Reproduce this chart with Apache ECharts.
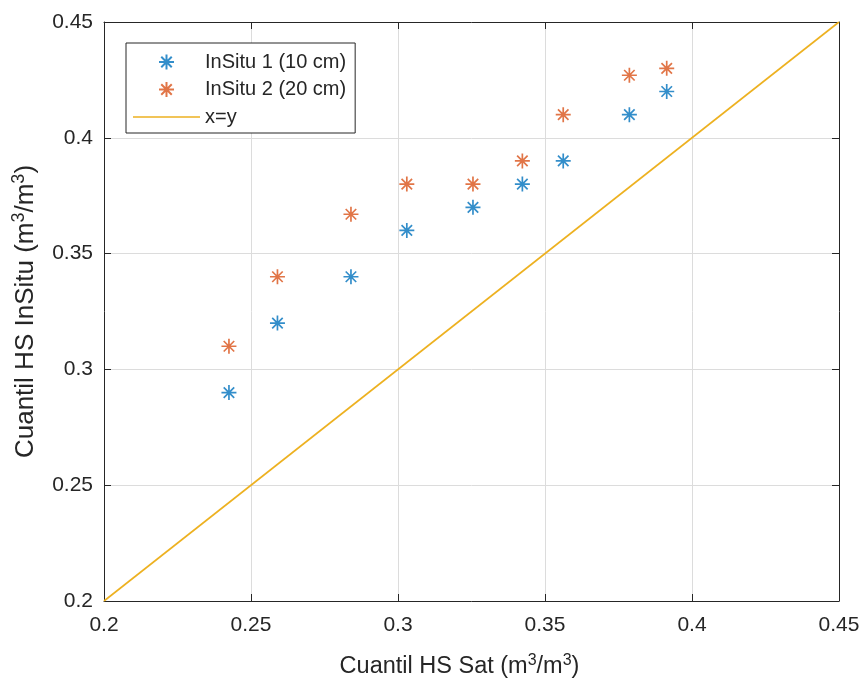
<!DOCTYPE html>
<html>
<head>
<meta charset="utf-8">
<script src="https://cdn.jsdelivr.net/npm/echarts@6/dist/echarts.min.js"></script>
<style>
  html, body { margin: 0; padding: 0; background: #fff; }
  #chart { width: 866px; height: 681px; }
</style>
</head>
<body>
<div id="chart"></div>
<script>
// Satellite soil-moisture quantiles (x) against in-situ quantiles at two depths (y)
const satQuantiles = [0.2425, 0.259, 0.284, 0.303, 0.3255, 0.3423, 0.3562, 0.3787, 0.3914];
const insitu1 = [0.29, 0.32, 0.34, 0.36, 0.37, 0.38, 0.39, 0.41, 0.42];
const insitu2 = [0.31, 0.34, 0.367, 0.38, 0.38, 0.39, 0.41, 0.427, 0.43];
const identityLine = [[0.2, 0.2], [0.45, 0.45]];
const seriesNames = ['InSitu 1 (10 cm)', 'InSitu 2 (20 cm)', 'x=y'];
const axisMin = 0.2, axisMax = 0.45, axisStep = 0.05;

const FONT = '"Liberation Sans", Arial, Helvetica, sans-serif';
const INK = '#262626';
const GRID = '#dcdcdc';
const C_BLUE = '#0072BD', C_RED = '#D95319', C_YELLOW = '#EDB120';

// asterisk marker: a plus with a shorter cross, stroked only
const ASTERISK = 'path://M0,-10L0,10M-10,0L10,0M-7,-7L7,7M-7,7L7,-7';
// flat bar used as the legend glyph of the reference line
const LINE_GLYPH = 'path://M0,0H66V1.6H0Z';

const pairs = ys => satQuantiles.map((x, i) => [x, ys[i]]);
const fmt = v => String(+v.toFixed(2));

const baseAxis = {
  type: 'value', min: axisMin, max: axisMax, interval: axisStep,
  axisLine: { show: true, onZero: false, lineStyle: { color: INK, width: 1 } },
  axisTick: { show: true, inside: true, length: 7, lineStyle: { color: INK, width: 1 } },
  splitLine: { show: false }
};

const richTitle = (size) => ({
  a: { fontFamily: FONT, fontSize: size, color: INK, lineHeight: size + 6 },
  s: { fontFamily: FONT, fontSize: Math.round(size * 0.68), color: INK,
       lineHeight: size + 6, padding: [0, 0, Math.round(size * 0.5), 0] }
});

const chart = echarts.init(document.getElementById('chart'), null, { renderer: 'canvas' });
chart.setOption({
  backgroundColor: '#ffffff',
  animation: false,
  grid: { left: 104, right: 27, top: 22, bottom: 80, containLabel: false, outerBoundsMode: 'none' },
  xAxis: [
    Object.assign({}, baseAxis, {
      position: 'bottom',
      splitLine: { show: true, lineStyle: { color: GRID, width: 1 } },
      axisLabel: { color: INK, fontFamily: FONT, fontSize: 21, margin: 14, formatter: fmt },
      name: '{a|Cuantil HS Sat (m}{s|3}{a|/m}{s|3}{a|)}',
      nameLocation: 'middle', nameGap: 51,
      nameTextStyle: { rich: richTitle(23.5), padding: [0, 24, 0, 0] }
    }),
    Object.assign({}, baseAxis, { position: 'top', axisLabel: { show: false } })
  ],
  yAxis: [
    Object.assign({}, baseAxis, {
      position: 'left',
      splitLine: { show: true, lineStyle: { color: GRID, width: 1 } },
      axisLabel: { color: INK, fontFamily: FONT, fontSize: 21, margin: 11, formatter: fmt },
      name: '{a|Cuantil HS InSitu (m}{s|3}{a|/m}{s|3}{a|)}',
      nameLocation: 'middle', nameGap: 62, nameRotate: 90,
      nameTextStyle: { rich: richTitle(26) }
    }),
    Object.assign({}, baseAxis, { position: 'right', axisLabel: { show: false } })
  ],
  legend: {
    orient: 'vertical', left: 126, top: 43,
    data: [
      { name: seriesNames[0] },
      { name: seriesNames[1] },
      { name: seriesNames[2], icon: LINE_GLYPH, itemStyle: { color: C_YELLOW } }
    ],
    symbolKeepAspect: true,
    backgroundColor: '#ffffff',
    borderColor: INK, borderWidth: 1, borderRadius: 0,
    padding: [9, 9, 6, 7],
    itemWidth: 67, itemHeight: 15, itemGap: 7.5,
    textStyle: { fontFamily: FONT, fontSize: 20, color: INK, lineHeight: 20 }
  },
  series: [
    {
      name: seriesNames[0], type: 'scatter', data: pairs(insitu1),
      symbol: ASTERISK, symbolSize: 15,
      itemStyle: { color: 'rgba(0,0,0,0)', borderColor: C_BLUE, borderWidth: 1.7 },
      z: 3
    },
    {
      name: seriesNames[1], type: 'scatter', data: pairs(insitu2),
      symbol: ASTERISK, symbolSize: 15,
      itemStyle: { color: 'rgba(0,0,0,0)', borderColor: C_RED, borderWidth: 1.7 },
      z: 3
    },
    {
      name: seriesNames[2], type: 'line', data: identityLine,
      showSymbol: false, symbol: 'none',
      lineStyle: { color: C_YELLOW, width: 1.6 },
      itemStyle: { color: C_YELLOW },
      z: 2
    }
  ]
});
</script>
</body>
</html>
